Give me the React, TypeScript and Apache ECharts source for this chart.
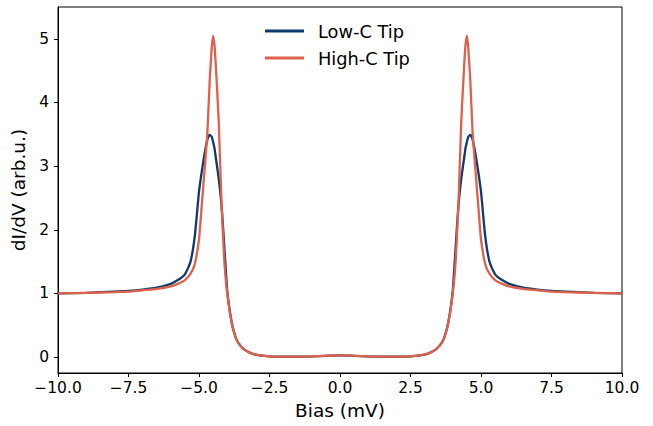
import React, { useEffect, useRef } from "react";
import * as echarts from "echarts";

const biasMv = [
  -10, -9, -8, -7.5, -7, -6.5, -6, -5.75, -5.5, -5.3, -5.15, -5.0, -4.9, -4.8, -4.7, -4.62,
  -4.55, -4.5, -4.45, -4.4, -4.3, -4.2, -4.1, -4.0, -3.9, -3.8, -3.7, -3.6, -3.4, -3.2, -3.0,
  -2.5, -2.0, -1.5, -1.0, -0.5, 0,
  0.5, 1.0, 1.5, 2.0, 2.5, 3.0, 3.2, 3.4, 3.6, 3.7, 3.8, 3.9, 4.0, 4.1, 4.2, 4.3, 4.4, 4.45,
  4.5, 4.55, 4.62, 4.7, 4.8, 4.9, 5.0, 5.15, 5.3, 5.5, 5.75, 6, 6.5, 7, 7.5, 8, 9, 10,
];

const lowCTip = [
  1.0, 1.01, 1.03, 1.04, 1.06, 1.09, 1.15, 1.21, 1.3, 1.5, 1.9, 2.6, 2.92, 3.2, 3.42, 3.49,
  3.46, 3.38, 3.28, 3.12, 2.8, 2.38, 1.72, 1.05, 0.7, 0.46, 0.31, 0.22, 0.12, 0.07, 0.04,
  0.012, 0.006, 0.006, 0.01, 0.02, 0.028,
  0.02, 0.01, 0.006, 0.006, 0.012, 0.04, 0.07, 0.12, 0.22, 0.31, 0.46, 0.7, 1.05, 1.72, 2.38,
  2.8, 3.12, 3.28, 3.38, 3.46, 3.49, 3.42, 3.2, 2.92, 2.6, 1.9, 1.5, 1.3, 1.21, 1.15,
  1.09, 1.06, 1.04, 1.03, 1.01, 1.0,
];

const highCTip = [
  1.0, 1.01, 1.02, 1.03, 1.05, 1.07, 1.11, 1.15, 1.21, 1.31, 1.46, 1.85, 2.4, 2.95, 3.55, 4.35,
  4.85, 5.05, 4.9, 4.55, 3.7, 2.4, 1.5, 1.0, 0.68, 0.46, 0.31, 0.22, 0.12, 0.07, 0.04,
  0.012, 0.006, 0.006, 0.01, 0.02, 0.028,
  0.02, 0.01, 0.006, 0.006, 0.012, 0.04, 0.07, 0.12, 0.22, 0.31, 0.46, 0.68, 1.0, 1.5, 2.4,
  3.7, 4.55, 4.9, 5.05, 4.85, 4.35, 3.55, 2.95, 2.4, 1.85, 1.46, 1.31, 1.21, 1.15, 1.11,
  1.07, 1.05, 1.03, 1.02, 1.01, 1.0,
];

const yTicks = [0, 1, 2, 3, 4, 5];
const seriesNames = ["Low-C Tip", "High-C Tip"];
const colors = ["#0d3a6c", "#df604b"];

const FONT = "DejaVu Sans";

export default function App() {
  const ref = useRef<HTMLDivElement>(null);
  useEffect(() => {
    if (!ref.current) return;
    const chart = echarts.init(ref.current, undefined, { renderer: "svg" });
    const pair = (ys: number[]) => biasMv.map((x, i) => [x, ys[i]]);
    chart.setOption({
      animation: false,
      backgroundColor: "#fff",
      grid: {
        left: 58,
        right: 31,
        top: 7,
        bottom: 53,
        show: true,
        borderColor: "#000",
        borderWidth: 1,
        backgroundColor: "transparent",
      },
      legend: {
        orient: "vertical",
        left: 265,
        top: 22,
        padding: 0,
        itemWidth: 39,
        itemHeight: 3,
        itemGap: 9,
        icon: "rect",
        data: seriesNames,
        textStyle: {
          fontFamily: FONT,
          fontSize: 17.8,
          color: "#000",
          padding: [0, 0, 0, 9],
          lineHeight: 18,
        },
      },
      xAxis: {
        type: "value",
        min: -10,
        max: 10,
        interval: 2.5,
        name: "Bias (mV)",
        nameLocation: "middle",
        nameGap: 27,
        nameTextStyle: { fontFamily: FONT, fontSize: 18.5, color: "#000" },
        axisLine: { onZero: false, lineStyle: { color: "#000", width: 1 } },
        axisTick: { show: true, inside: false, length: 4, lineStyle: { color: "#000" } },
        axisLabel: {
          fontFamily: FONT,
          fontSize: 15.5,
          color: "#000",
          margin: 7,
          formatter: (v: number) => v.toFixed(1).replace("-", "\u2212"),
        },
        splitLine: { show: false },
      },
      yAxis: {
        type: "value",
        min: -0.25,
        max: 5.5,
        name: "dI/dV (arb.u.)",
        nameLocation: "middle",
        nameGap: 27,
        nameTextStyle: { fontFamily: FONT, fontSize: 18.5, color: "#000" },
        axisLine: { onZero: false, lineStyle: { color: "#000", width: 1 } },
        axisTick: {
          show: true,
          inside: false,
          length: 4,
          lineStyle: { color: "#000" },
          customValues: yTicks,
        },
        axisLabel: {
          fontFamily: FONT,
          fontSize: 15.5,
          color: "#000",
          margin: 9,
          customValues: yTicks,
          formatter: (v: number) => String(v),
        },
        splitLine: { show: false },
      },
      series: [
        {
          name: seriesNames[0],
          type: "line",
          data: pair(lowCTip),
          showSymbol: false,
          smooth: 0.2,
          lineStyle: { color: colors[0], width: 2.3 },
          itemStyle: { color: colors[0] },
        },
        {
          name: seriesNames[1],
          type: "line",
          data: pair(highCTip),
          showSymbol: false,
          smooth: 0.2,
          lineStyle: { color: colors[1], width: 2.3 },
          itemStyle: { color: colors[1] },
        },
      ],
    });
    return () => chart.dispose();
  }, []);
  return <div ref={ref} style={{ width: 653, height: 426, position: "absolute", left: 0, top: 0 }} />;
}
